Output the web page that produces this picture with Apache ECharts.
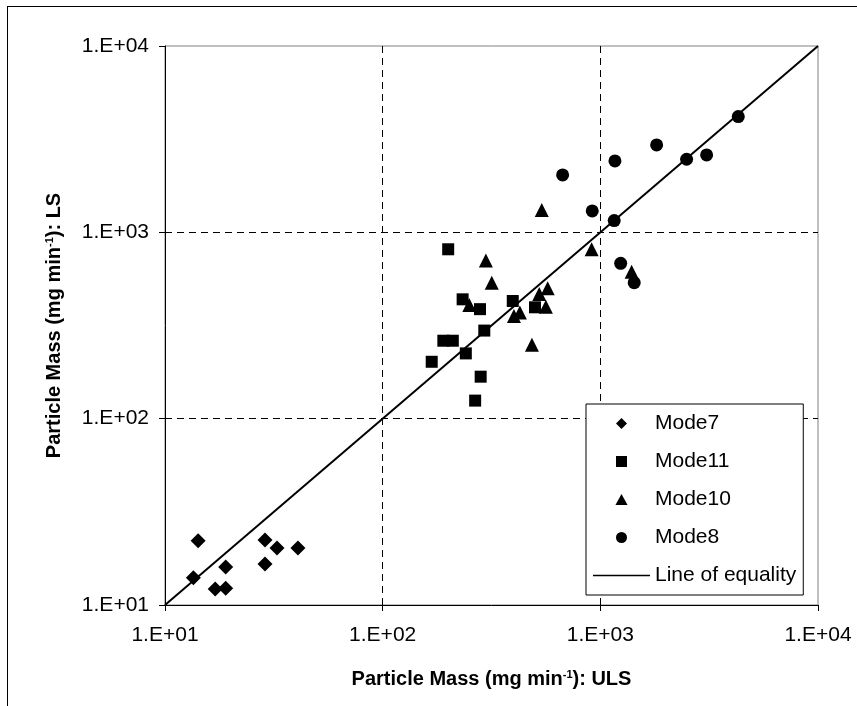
<!DOCTYPE html>
<html>
<head>
<meta charset="utf-8">
<script src="https://cdn.jsdelivr.net/npm/echarts@6/dist/echarts.min.js"></script>
<style>
  html, body { margin: 0; padding: 0; background: #fff; }
  #main { width: 857px; height: 706px; }
</style>
</head>
<body>
<div id="main"></div>
<script>
// values (ULS on x, LS on y)
var mode7X = [13.5, 14.2, 17.0, 19.0, 19.0, 28.8, 28.8, 32.7, 40.8];
var mode7Y = [14.0, 22.1, 12.2, 12.3, 16.0, 16.6, 22.3, 20.2, 20.2];

var mode11X = [200, 233, 280, 396, 501, 293, 190, 210, 241, 282, 266, 168];
var mode11Y = [811, 437, 387, 428, 396, 297, 262, 262, 224, 168, 125, 202];

var mode10X = [298, 317, 250, 524, 573, 562, 401, 427, 485, 912, 538, 1392];
var mode10Y = [705, 537, 408, 467, 501, 399, 356, 371, 249, 811, 1319, 615];

var mode8X = [671, 918, 1167, 1158, 1240, 1431, 1814, 2491, 3078, 4302];
var mode8Y = [2032, 1303, 2417, 1156, 682, 537, 2945, 2468, 2604, 4180];

var equalityLine = [10, 10000];

var tickValues = [10, 100, 1000, 10000];
var tickLabels = ['1.E+01', '1.E+02', '1.E+03', '1.E+04'];

function pairs(xs, ys) {
  return xs.map(function (x, i) { return [x, ys[i]]; });
}

function tickText(v) {
  var i = tickValues.indexOf(Math.round(v));
  return i >= 0 ? tickLabels[i] : '';
}

var font = "'Liberation Sans', Arial, sans-serif";

var chartDom = document.getElementById('main');
var myChart = echarts.init(chartDom);
var option;

var axisCommon = {
  type: 'log',
  logBase: 10,
  min: 10,
  max: 10000,
  axisLine: { show: true, onZero: false, lineStyle: { color: '#000', width: 1 } },
  axisTick: { show: true, inside: false, length: 6, lineStyle: { color: '#000' } },
  minorTick: { show: false },
  splitLine: {
    show: true,
    showMinLine: false,
    showMaxLine: false,
    lineStyle: { color: '#000', type: [7, 5], width: 1 }
  },
  axisLabel: {
    color: '#000',
    fontSize: 21,
    fontFamily: font,
    formatter: tickText,
    showMinLabel: true,
    showMaxLabel: true
  },
  nameLocation: 'middle',
  nameTextStyle: {
    rich: {
      a: { fontSize: 20, fontWeight: 'bold', fontFamily: font, color: '#000' },
      s: { fontSize: 11, fontWeight: 'bold', fontFamily: font, color: '#000', verticalAlign: 'top', padding: [0, 0, 10, 0] }
    }
  }
};

var dot = { color: '#000', opacity: 1 };

// legend icons as paths so they keep their shape inside the wide item box
var legendIcons = {
  diamond: 'path://M5,0 L10,5 L5,10 L0,5 Z',
  square: 'path://M0,0 L10,0 L10,10 L0,10 Z',
  triangle: 'path://M5.5,0 L11,10 L0,10 Z',
  line: 'path://M0,0 L57,0 L57,1.6 L0,1.6 Z'
};

option = {
  animation: false,
  backgroundColor: '#fff',
  grid: {
    left: 165,
    top: 46,
    right: 39,
    bottom: 101,
    show: true,
    borderColor: '#808080',
    borderWidth: 1,
    backgroundColor: '#fff'
  },
  graphic: [
    { type: 'line', shape: { x1: 7.5, y1: 6, x2: 7.5, y2: 706 }, style: { stroke: '#000', lineWidth: 1 } },
    { type: 'line', shape: { x1: 7, y1: 6.5, x2: 857, y2: 6.5 }, style: { stroke: '#000', lineWidth: 1 } }
  ],
  xAxis: Object.assign({}, axisCommon, {
    name: '{a|Particle Mass (mg min}{s|-1}{a|): ULS}',
    nameGap: 64,
    axisLabel: Object.assign({}, axisCommon.axisLabel, { margin: 20 })
  }),
  yAxis: Object.assign({}, axisCommon, {
    name: '{a|Particle Mass (mg min}{s|-1}{a|): LS}',
    nameGap: 100,
    nameRotate: 90,
    axisLabel: Object.assign({}, axisCommon.axisLabel, { margin: 16 })
  }),
  legend: {
    orient: 'vertical',
    left: 586,
    top: 404,
    padding: [9, 7, 9, 7],
    itemWidth: 57,
    itemHeight: 11,
    itemGap: 17,
    symbolKeepAspect: true,
    backgroundColor: '#fff',
    borderColor: '#000',
    borderWidth: 1,
    borderRadius: 0,
    textStyle: { color: '#000', fontSize: 21, fontFamily: font },
    data: [
      { name: 'Mode7', icon: legendIcons.diamond },
      { name: 'Mode11', icon: legendIcons.square },
      { name: 'Mode10', icon: legendIcons.triangle },
      { name: 'Mode8', icon: 'circle' },
      { name: 'Line of equality', icon: legendIcons.line }
    ]
  },
  series: [
    {
      name: 'Line of equality',
      type: 'line',
      data: pairs(equalityLine, equalityLine),
      symbol: 'none',
      lineStyle: { color: '#000', width: 2 },
      itemStyle: dot,
      z: 1
    },
    {
      name: 'Mode7',
      type: 'scatter',
      symbol: 'diamond',
      symbolSize: 15,
      itemStyle: dot,
      data: pairs(mode7X, mode7Y),
      z: 3
    },
    {
      name: 'Mode11',
      type: 'scatter',
      symbol: 'rect',
      symbolSize: 12,
      itemStyle: dot,
      data: pairs(mode11X, mode11Y),
      z: 3
    },
    {
      name: 'Mode10',
      type: 'scatter',
      symbol: 'triangle',
      symbolSize: 14,
      itemStyle: dot,
      data: pairs(mode10X, mode10Y),
      z: 3
    },
    {
      name: 'Mode8',
      type: 'scatter',
      symbol: 'circle',
      symbolSize: 13,
      itemStyle: dot,
      data: pairs(mode8X, mode8Y),
      z: 3
    }
  ]
};

option && myChart.setOption(option);
</script>
</body>
</html>
